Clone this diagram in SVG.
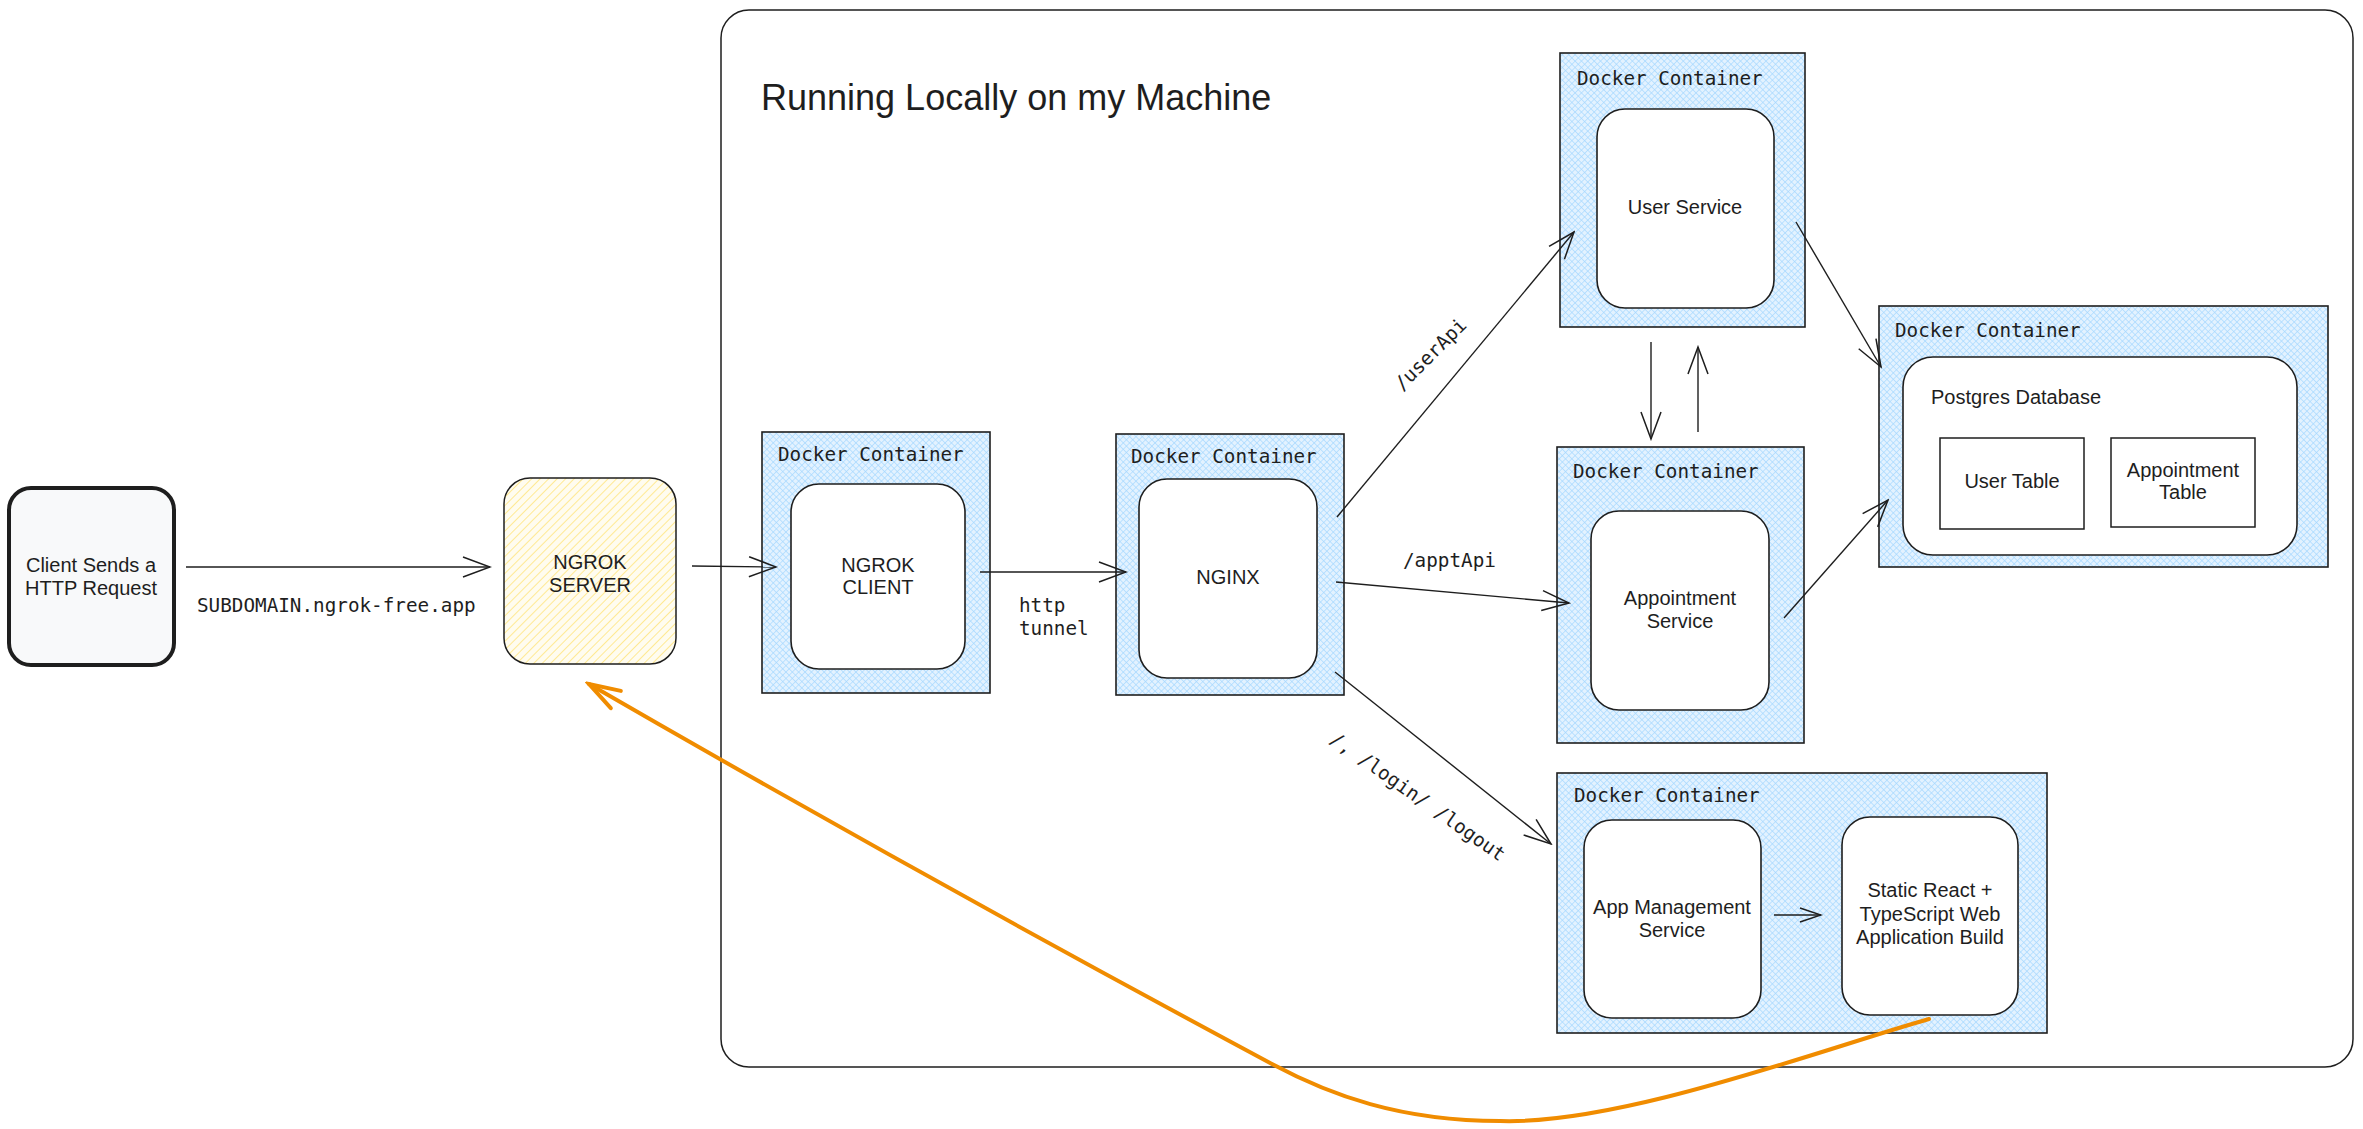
<svg xmlns="http://www.w3.org/2000/svg" width="2363" height="1129" viewBox="0 0 2363 1129">
<style>
.mono{font-family:"DejaVu Sans Mono","Liberation Mono",monospace;font-size:19.3px;fill:#1e1e1e}
.sans{font-family:"Liberation Sans",Arial,sans-serif;font-size:20px;fill:#1e1e1e}
.mid{text-anchor:middle}
.dock{fill:url(#xh);stroke:#1e1e1e;stroke-width:1.6}
.inner{fill:#ffffff;stroke:#1e1e1e;stroke-width:1.6}
.conn{fill:none;stroke:#1e1e1e;stroke-width:1.4;marker-end:url(#ah)}
</style>
<defs>
<pattern id="xh" width="4.5" height="4.5" patternUnits="userSpaceOnUse" patternTransform="rotate(45)">
<rect width="4.5" height="4.5" fill="#e3f2ff"/>
<path d="M0,0 H4.5 M0,0 V4.5" stroke="#a5d8ff" stroke-width="1.3"/>
</pattern>
<pattern id="yh" width="6" height="6" patternUnits="userSpaceOnUse" patternTransform="rotate(-45)">
<rect width="6" height="6" fill="#fffcef"/>
<path d="M0,0 H6" stroke="#ffe993" stroke-width="2"/>
</pattern>
<marker id="ah" viewBox="-30 -12 32 24" refX="0" refY="0" markerWidth="32" markerHeight="24" markerUnits="userSpaceOnUse" orient="auto">
<path d="M-27,-10 L0,0 L-27,10" fill="none" stroke="#1e1e1e" stroke-width="1.5"/>
</marker>
<marker id="ahs" viewBox="-24 -10 26 20" refX="0" refY="0" markerWidth="26" markerHeight="20" markerUnits="userSpaceOnUse" orient="auto">
<path d="M-21,-7 L0,0 L-21,7" fill="none" stroke="#1e1e1e" stroke-width="1.5"/>
</marker>
<marker id="aho" viewBox="-36 -14 40 28" refX="0" refY="0" markerWidth="40" markerHeight="28" markerUnits="userSpaceOnUse" orient="auto">
<path d="M-31,-10 L0,0 L-31,10" fill="none" stroke="#f08c00" stroke-width="4" stroke-linecap="round"/>
</marker>
</defs>
<rect width="2363" height="1129" fill="#ffffff"/>

<g id="frame">
<rect x="721" y="10" width="1632" height="1057" rx="28" fill="none" stroke="#1e1e1e" stroke-width="1.5"/>
<text x="761" y="110" font-family="Liberation Sans, Arial, sans-serif" font-size="36" fill="#1e1e1e">Running Locally on my Machine</text>
</g>

<g id="client">
<rect x="9" y="488" width="165" height="177" rx="22" fill="#f8f9fa" stroke="#1e1e1e" stroke-width="4"/>
<text class="sans mid" x="91" y="572">Client Sends a</text>
<text class="sans mid" x="91" y="595">HTTP Request</text>
</g>

<g id="ngrok-server">
<rect x="504" y="478" width="172" height="186" rx="26" fill="url(#yh)" stroke="#1e1e1e" stroke-width="1.5"/>
<text class="sans mid" x="590" y="569">NGROK</text>
<text class="sans mid" x="590" y="592">SERVER</text>
</g>

<g id="ngrok-client">
<rect class="dock" x="762" y="432" width="228" height="261"/>
<text class="mono" x="778" y="461">Docker Container</text>
<rect class="inner" x="791" y="484" width="174" height="185" rx="28"/>
<text class="sans mid" x="878" y="572">NGROK</text>
<text class="sans mid" x="878" y="594">CLIENT</text>
</g>

<g id="nginx">
<rect class="dock" x="1116" y="434" width="228" height="261"/>
<text class="mono" x="1131" y="463">Docker Container</text>
<rect class="inner" x="1139" y="479" width="178" height="199" rx="28"/>
<text class="sans mid" x="1228" y="584">NGINX</text>
</g>

<g id="user-service">
<rect class="dock" x="1560" y="53" width="245" height="274"/>
<text class="mono" x="1577" y="85">Docker Container</text>
<rect class="inner" x="1597" y="109" width="177" height="199" rx="28"/>
<text class="sans mid" x="1685" y="214">User Service</text>
</g>

<g id="appointment-service">
<rect class="dock" x="1557" y="447" width="247" height="296"/>
<text class="mono" x="1573" y="478">Docker Container</text>
<rect class="inner" x="1591" y="511" width="178" height="199" rx="28"/>
<text class="sans mid" x="1680" y="605">Appointment</text>
<text class="sans mid" x="1680" y="628">Service</text>
</g>

<g id="postgres">
<rect class="dock" x="1879" y="306" width="449" height="261"/>
<text class="mono" x="1895" y="337">Docker Container</text>
<rect class="inner" x="1903" y="357" width="394" height="198" rx="30"/>
<text class="sans" x="1931" y="404">Postgres Database</text>
<g id="user-table">
<rect x="1940" y="438" width="144" height="91" fill="#ffffff" stroke="#1e1e1e" stroke-width="1.5"/>
<text class="sans mid" x="2012" y="488">User Table</text>
</g>
<g id="appointment-table">
<rect x="2111" y="438" width="144" height="89" fill="#ffffff" stroke="#1e1e1e" stroke-width="1.5"/>
<text class="sans mid" x="2183" y="477">Appointment</text>
<text class="sans mid" x="2183" y="499">Table</text>
</g>
</g>

<g id="app-management">
<rect class="dock" x="1557" y="773" width="490" height="260"/>
<text class="mono" x="1574" y="802">Docker Container</text>
<g id="app-management-service">
<rect class="inner" x="1584" y="820" width="177" height="198" rx="28"/>
<text class="sans mid" x="1672" y="914">App Management</text>
<text class="sans mid" x="1672" y="937">Service</text>
</g>
<g id="static-react">
<rect class="inner" x="1842" y="817" width="176" height="198" rx="28"/>
<text class="sans mid" x="1930" y="897">Static React +</text>
<text class="sans mid" x="1930" y="921">TypeScript Web</text>
<text class="sans mid" x="1930" y="944">Application Build</text>
</g>
</g>

<g id="connectors">
<path class="conn" d="M186,567 L490,567"/>
<text class="mono" x="197" y="612">SUBDOMAIN.ngrok-free.app</text>
<path class="conn" d="M692,566 L776,567"/>
<path class="conn" d="M980,572 L1126,572"/>
<text class="mono" x="1019" y="612">http</text>
<text class="mono" x="1019" y="635">tunnel</text>
<path class="conn" d="M1337,517 L1574,232"/>
<text class="mono mid" transform="translate(1435,359) rotate(-45)">/userApi</text>
<path class="conn" d="M1336,582 L1569,603"/>
<text class="mono" x="1403" y="567">/apptApi</text>
<path class="conn" d="M1335,672 L1551,844"/>
<text class="mono mid" transform="translate(1414,802) rotate(35)">/, /login/ /logout</text>
<path class="conn" d="M1796,222 L1881,367"/>
<path class="conn" d="M1784,618 L1888,500"/>
<path class="conn" d="M1651,342 L1651,439"/>
<path class="conn" d="M1698,432 L1698,347"/>
<path d="M1774,915 L1821,915" fill="none" stroke="#1e1e1e" stroke-width="1.4" marker-end="url(#ahs)"/>
<path d="M1929,1019 C1820,1050 1620,1125 1500,1121 C1400,1121 1330,1095 1272,1064 C1050,945 800,806 589,684" fill="none" stroke="#f08c00" stroke-width="4" stroke-linecap="round" stroke-linejoin="round" marker-end="url(#aho)"/>
</g>
</svg>
